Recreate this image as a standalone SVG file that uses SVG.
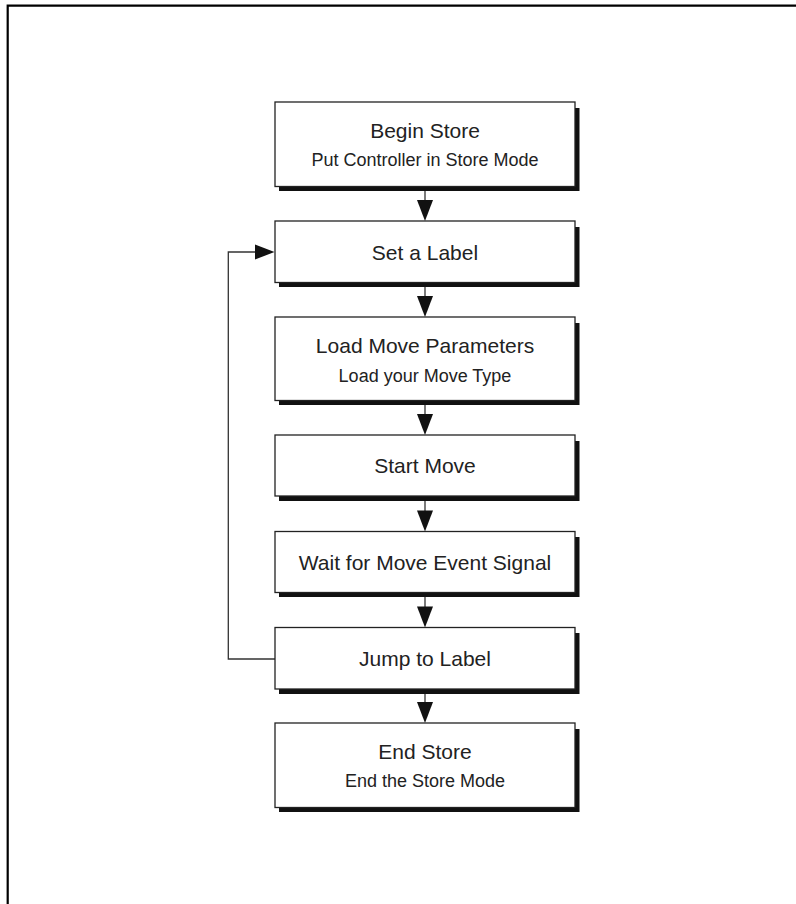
<svg xmlns="http://www.w3.org/2000/svg" width="796" height="904" viewBox="0 0 796 904">
<style>
.frame{fill:none;stroke:#000;stroke-width:2.2}
.shadow{fill:#111}
.box{fill:#fff;stroke:#222;stroke-width:1.3}
.t{font-family:"Liberation Sans",Arial,sans-serif;font-size:21px;fill:#222;text-anchor:middle}
.s{font-family:"Liberation Sans",Arial,sans-serif;font-size:18px;fill:#222;text-anchor:middle}
.ln{fill:none;stroke:#333;stroke-width:1.3}
.ah{fill:#111}
</style>
<rect width="796" height="904" fill="#fff"/>
<path class="frame" d="M7.7,904 V5.7 H796"/>
<g id="connectors">
<line class="ln" x1="425" y1="191" x2="425" y2="202"/>
<polygon class="ah" points="417,200 433,200 425,221"/>
<line class="ln" x1="425" y1="286" x2="425" y2="298"/>
<polygon class="ah" points="417,296 433,296 425,317"/>
<line class="ln" x1="425" y1="404" x2="425" y2="416"/>
<polygon class="ah" points="417,414 433,414 425,435"/>
<line class="ln" x1="425" y1="500" x2="425" y2="512"/>
<polygon class="ah" points="417,510.5 433,510.5 425,531.5"/>
<line class="ln" x1="425" y1="596" x2="425" y2="608"/>
<polygon class="ah" points="417,606.5 433,606.5 425,627.5"/>
<line class="ln" x1="425" y1="693" x2="425" y2="704"/>
<polygon class="ah" points="417,702 433,702 425,723"/>
<polyline class="ln" points="275,659 228.3,659 228.3,252 257,252"/>
<polygon class="ah" points="255,244.5 255,259.5 274.5,252"/>
</g>
<g id="n1">
<rect class="shadow" x="279" y="108" width="300.5" height="83"/>
<rect class="box" x="275" y="102" width="300" height="84.5"/>
<text class="t" x="425" y="138">Begin Store</text>
<text class="s" x="425" y="166">Put Controller in Store Mode</text>
</g>
<g id="n2">
<rect class="shadow" x="279" y="227" width="300.5" height="60"/>
<rect class="box" x="275" y="221" width="300" height="61.5"/>
<text class="t" x="425" y="259.5">Set a Label</text>
</g>
<g id="n3">
<rect class="shadow" x="279" y="323" width="300.5" height="82"/>
<rect class="box" x="275" y="317" width="300" height="83.5"/>
<text class="t" x="425" y="353">Load Move Parameters</text>
<text class="s" x="425" y="382">Load your Move Type</text>
</g>
<g id="n4">
<rect class="shadow" x="279" y="441" width="300.5" height="60"/>
<rect class="box" x="275" y="435" width="300" height="61"/>
<text class="t" x="425" y="473">Start Move</text>
</g>
<g id="n5">
<rect class="shadow" x="279" y="537" width="300.5" height="60"/>
<rect class="box" x="275" y="531.5" width="300" height="61"/>
<text class="t" x="425" y="569.5">Wait for Move Event Signal</text>
</g>
<g id="n6">
<rect class="shadow" x="279" y="633" width="300.5" height="61"/>
<rect class="box" x="275" y="627.5" width="300" height="61.5"/>
<text class="t" x="425" y="666">Jump to Label</text>
</g>
<g id="n7">
<rect class="shadow" x="279" y="729" width="300.5" height="83"/>
<rect class="box" x="275" y="723" width="300" height="84.5"/>
<text class="t" x="425" y="759">End Store</text>
<text class="s" x="425" y="787">End the Store Mode</text>
</g>
</svg>
